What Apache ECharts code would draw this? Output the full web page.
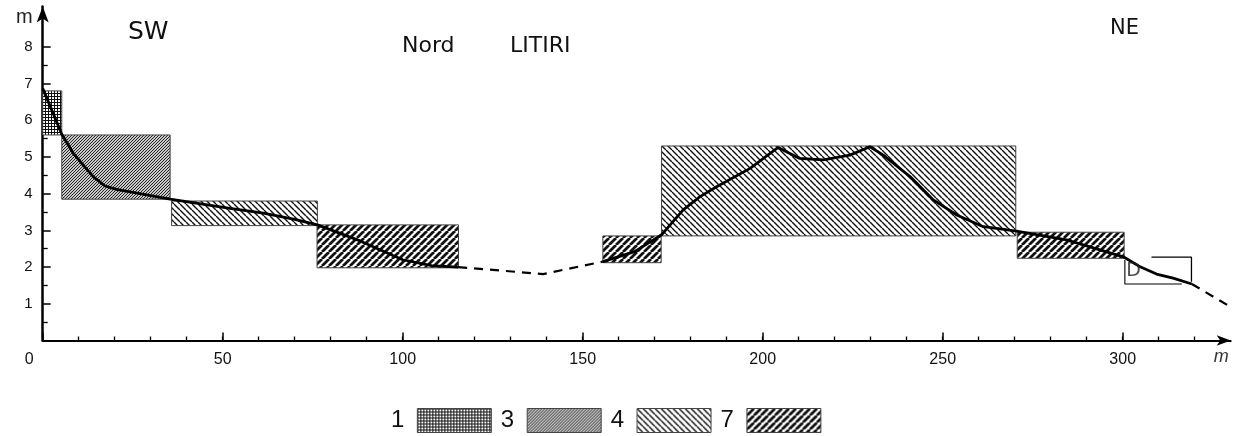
<!DOCTYPE html>
<html>
<head>
<meta charset="utf-8">
<script src="https://cdn.jsdelivr.net/npm/echarts@6/dist/echarts.min.js"></script>
<style>
html,body{margin:0;padding:0;background:#fff;}
#chart{width:1244px;height:436px;}
</style>
</head>
<body>
<div id="chart"></div>
<script>
// ---- data ----
const xTickLabels = [0, 50, 100, 150, 200, 250, 300];
const xMinorTicks = [10,20,30,40,50,60,70,80,90,100,110,120,130,140,150,160,170,180,190,200,210,220,230,240,250,260,270,280,290,300,310,320];
const yTickLabels = [1, 2, 3, 4, 5, 6, 7, 8];
const yMinorTicks = [0.5, 1.5, 2.5, 3.5, 4.5, 5.5, 6.5, 7.5];

const legendTypes = ['1', '3', '4', '7'];
const rectX0 = [0, 5.3, 35.8, 76.2, 155.6, 171.9, 270.7];
const rectX1 = [5.3, 35.4, 76.3, 115.5, 171.8, 270.3, 300.4];
const rectY0 = [5.6, 3.85, 3.13, 1.98, 2.12, 2.85, 2.24];
const rectY1 = [6.8, 5.6, 3.8, 3.15, 2.85, 5.3, 2.95];
const rectType = ['1', '3', '4', '7', '7', '4', '7'];

const profileSolidA = [[0,6.87],[2,6.4],[5.3,5.62],[8.5,5.1],[10.8,4.83],[14.1,4.46],[17.3,4.21],[20.5,4.12],[24.3,4.05],[35.4,3.85],[52,3.6],[61.3,3.47],[70,3.3],[76.3,3.15],[88,2.72],[100,2.2],[108,2.04],[115.4,2.0]];
const profileDashA = [[115.4,2.0],[139,1.81],[155.6,2.15]];
const profileSolidB = [[155.6,2.15],[164.4,2.42],[169,2.7],[171.9,2.88],[177.9,3.56],[182.6,3.92],[187.2,4.19],[196.5,4.69],[204.3,5.26],[207,5.12],[210.3,4.96],[216.8,4.92],[224.2,5.05],[229.8,5.28],[233.5,5.05],[241,4.46],[247.4,3.83],[253.9,3.42],[261.3,3.1],[266,3.04],[270.5,2.98],[284.4,2.74],[300.4,2.27],[305,2.0],[309.4,1.81],[314,1.7],[319.2,1.54]];
const profileDashB = [[319.2,1.54],[329,0.97]];
const dBoxA = [[308,2.27],[319.1,2.27],[319.1,1.6]];
const dBoxB = [[316.4,1.54],[300.6,1.54],[300.6,2.19]];
const dLabelPos = [[303,1.9]];

// ---- patterns ----
function tile(s){const c=document.createElement('canvas');c.width=s;c.height=s;const g=c.getContext('2d');g.fillStyle='#fff';g.fillRect(0,0,s,s);return [c,g];}
function diag(s, w, color, dir, bg){
  const [c,g]=tile(s);
  if(bg){g.fillStyle=bg;g.fillRect(0,0,s,s);}
  g.strokeStyle=color;g.lineWidth=w;g.beginPath();
  for(let k=-1;k<=1;k++){
    if(dir==='/'){g.moveTo(k*s,s);g.lineTo(k*s+s,0);}
    else {g.moveTo(k*s,0);g.lineTo(k*s+s,s);}
  }
  g.stroke();return c;
}
function cross(){const [c,g]=tile(3);g.fillStyle='#111';g.fillRect(0,0,3,1);g.fillRect(0,0,1,3);return c;}
const patterns = {
  '1': {image: cross(), repeat: 'repeat'},
  '3': {image: diag(3, 1, '#222', '/', '#cacaca'), repeat: 'repeat'},
  '4': {image: diag(6, 1.4, '#111', '\\'), repeat: 'repeat'},
  '7': {image: diag(7, 2.8, '#111', '/'), repeat: 'repeat'}
};

const series = [];
legendTypes.forEach(function(t){
  const data = [];
  for(let i=0;i<rectType.length;i++){ if(rectType[i]===t) data.push([rectX0[i], rectX1[i], rectY0[i], rectY1[i]]); }
  series.push({
    type:'custom', name:t, data:data, z:2,
    itemStyle:{color:patterns[t], borderColor:'#444', borderWidth:1},
    encode:{x:[0,1], y:[2,3]},
    renderItem:function(params, api){
      const p0 = api.coord([api.value(0), api.value(3)]);
      const p1 = api.coord([api.value(1), api.value(2)]);
      return {type:'rect', shape:{x:p0[0], y:p0[1], width:p1[0]-p0[0], height:p1[1]-p0[1]},
        style:{fill:patterns[t], stroke:'#444', lineWidth:1}};
    }
  });
});
function line(data, dashed, w){
  return {type:'line', data:data, symbol:'none', z:5, silent:true,
    lineStyle:{color:'#000', width:w, type: dashed ? [9,7] : 'solid'}};
}
series.push(line(profileSolidA,false,2.8));
series.push(line(profileDashA,true,2.2));
series.push(line(profileSolidB,false,2.8));
series.push(line(profileDashB,true,2.2));
series.push(line(dBoxA,false,1.3));
series.push(line(dBoxB,false,1.1));
series.push({type:'scatter', data:dLabelPos, symbolSize:0, z:6,
  label:{show:true, formatter:'D', position:'inside', fontSize:19, color:'#222', fontFamily:'DejaVu Sans'}});

const font = 'Liberation Sans';
const headFont = 'DejaVu Sans';
const option = {
  animation:false,
  backgroundColor:'#fff',
  textStyle:{fontFamily:font},
  grid:{left:42.7, right:13.3, top:6.5, bottom:95.5},
  legend:{
    data: legendTypes.map(function(t){return {name:t, icon:'rect', itemStyle:{color:patterns[t], borderColor:'#444', borderWidth:1}};}),
    left:391, top:408, padding:0, align:'right', itemWidth:74, itemHeight:24, itemGap:9,
    textStyle:{fontSize:24, color:'#111', fontFamily:font, padding:[0,8,0,0]},
    selectedMode:false
  },
  xAxis:[
    {type:'value', min:0, max:330, interval:10,
     name:'m', nameLocation:'end', nameGap:-2,
     nameTextStyle:{fontSize:18, fontStyle:'italic', color:'#333', align:'right', verticalAlign:'top', padding:[7,0,0,0]},
     axisLine:{show:true, lineStyle:{color:'#000', width:2}, symbol:['none','arrow'], symbolSize:[8,14]},
     axisTick:{show:true, inside:true, length:4, lineStyle:{color:'#000', width:1.3}, customValues:xMinorTicks},
     axisLabel:{show:false}, splitLine:{show:false}},
    {type:'value', min:0, max:330, interval:50, position:'bottom',
     axisLine:{show:false},
     axisTick:{show:true, inside:true, length:8, lineStyle:{color:'#000', width:1.5}, customValues:xTickLabels},
     axisLabel:{show:true, customValues:xTickLabels, fontSize:16, color:'#111', margin:11, fontFamily:font,
       formatter:function(v){return v===0 ? '{z|0}' : String(v);},
       rich:{z:{fontSize:16, color:'#111', padding:[0,27,0,0], fontFamily:font}}},
     splitLine:{show:false}}
  ],
  yAxis:[
    {type:'value', min:0, max:9.1, interval:0.5,
     name:'m', nameLocation:'end', nameGap:-11,
     nameTextStyle:{fontSize:20, color:'#222', align:'right', verticalAlign:'middle', padding:[0,10,0,0]},
     axisLine:{show:true, lineStyle:{color:'#000', width:2.5}, symbol:['none','arrow'], symbolSize:[9,16]},
     axisTick:{show:true, inside:true, length:5, lineStyle:{color:'#000', width:1.3}, customValues:yMinorTicks},
     axisLabel:{show:false}, splitLine:{show:false}},
    {type:'value', min:0, max:9.1, interval:1, position:'left', offset:0,
     axisLine:{show:false},
     axisTick:{show:true, inside:true, length:8, lineStyle:{color:'#000', width:1.5}, customValues:yTickLabels},
     axisLabel:{show:true, customValues:yTickLabels, fontSize:15, color:'#111', margin:10, padding:[8,0,0,0], fontFamily:font},
     splitLine:{show:false}}
  ],
  graphic:[
    {type:'text', left:128, top:20, style:{text:'SW', fontSize:25, fill:'#111', fontFamily:headFont}},
    {type:'text', left:402, top:35, style:{text:'Nord', fontSize:22, fill:'#111', fontFamily:headFont}},
    {type:'text', left:510, top:35, style:{text:'LITIRI', fontSize:22, fill:'#111', fontFamily:headFont}},
    {type:'text', left:1110, top:18, style:{text:'NE', fontSize:21, fill:'#111', fontFamily:headFont}}
  ],
  series:series
};
const chart = echarts.init(document.getElementById('chart'), null, {renderer:'canvas'});
chart.setOption(option);
</script>
</body>
</html>
